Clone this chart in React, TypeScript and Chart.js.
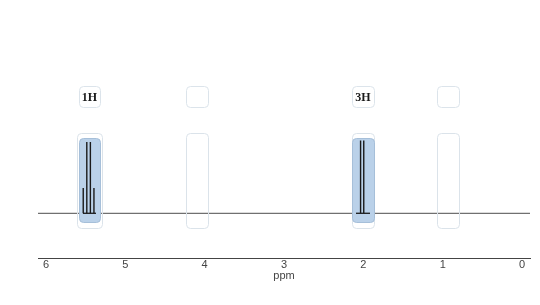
import { useEffect, useRef } from "react";
import { Chart, registerables } from "chart.js";

Chart.register(...registerables);

// ---- data ----
const peakPpm = [5.53, 5.485, 5.44, 5.395, 2.035, 1.995];
const peakHeight = [0.35, 0.99, 0.99, 0.35, 1.01, 1.01];
const regionStart = [5.58, 4.23, 2.14, 1.07];
const regionEnd = [5.32, 3.96, 1.87, 0.8];
const regionLabels = ["1H", "", "3H", ""];
const axisTicks = [0, 1, 2, 3, 4, 5, 6];
const ppmMin = -0.1;
const ppmMax = 6.1;

function rrect(ctx: CanvasRenderingContext2D, x: number, y: number, w: number, h: number, r: number) {
  ctx.beginPath();
  if ((ctx as any).roundRect) {
    (ctx as any).roundRect(x, y, w, h, r);
  } else {
    ctx.rect(x, y, w, h);
  }
}

const regionPlugin = {
  id: "regions",
  afterDatasetDraw(chart: any, args: any) {
    if (args.index !== 1) return;
    const { ctx, scales } = chart;
    const x = scales.x;
    const y = scales.y;
    const outerTop = y.getPixelForValue(1.11);
    const outerBottom = y.getPixelForValue(-0.21);
    const blueTop = y.getPixelForValue(1.04);
    const blueBottom = y.getPixelForValue(-0.125);
    const labTop = y.getPixelForValue(1.76);
    const labBottom = y.getPixelForValue(1.465);
    const base = y.getPixelForValue(0);
    ctx.save();
    for (let i = 0; i < regionStart.length; i++) {
      const l = Math.round(x.getPixelForValue(regionStart[i]));
      const r = Math.round(x.getPixelForValue(regionEnd[i]));
      const hasLabel = regionLabels[i] !== "";
      // outer faint box
      const pad = hasLabel && i === 0 ? 2 : 0;
      ctx.lineWidth = 1;
      ctx.strokeStyle = "#dbe3ea";
      rrect(ctx, l - pad + 0.5, Math.round(outerTop) + 0.5, r - l + 2 * pad, Math.round(outerBottom - outerTop), 4);
      ctx.stroke();
      // label box
      ctx.fillStyle = "#ffffff";
      ctx.strokeStyle = "#dce4eb";
      rrect(ctx, l + 0.5, Math.round(labTop) + 0.5, r - l, Math.round(labBottom - labTop), 4);
      ctx.fill();
      ctx.stroke();
      if (hasLabel) {
        ctx.fillStyle = "#1a1a1a";
        ctx.font = "bold 12px 'Liberation Serif', serif";
        ctx.textAlign = "center";
        ctx.textBaseline = "middle";
        ctx.fillText(regionLabels[i], (l + r) / 2, (labTop + labBottom) / 2 + 0.5);
        // blue integration box
        ctx.fillStyle = "#bad1e9";
        ctx.strokeStyle = "#a6bfd9";
        rrect(ctx, l + 0.5, Math.round(blueTop) + 0.5, r - l, Math.round(blueBottom - blueTop), 4);
        ctx.fill();
        ctx.stroke();
        ctx.strokeStyle = "#1a1a1a";
        ctx.lineWidth = 1.3;
        ctx.beginPath();
        ctx.moveTo(l + 4, base);
        ctx.lineTo(r - 4, base);
        ctx.stroke();
      }
    }
    ctx.restore();
  },
};

export default function App() {
  const ref = useRef<HTMLCanvasElement | null>(null);
  useEffect(() => {
    if (!ref.current) return;
    const peakData: any[] = [];
    peakPpm.forEach((p, i) => {
      peakData.push({ x: p, y: 0 });
      peakData.push({ x: p, y: peakHeight[i] });
      peakData.push({ x: p, y: null });
    });
    const chart = new Chart(ref.current, {
      type: "line",
      data: {
        datasets: [
          {
            data: peakData,
            borderColor: "#1a1a1a",
            borderWidth: 1.4,
            pointRadius: 0,
            spanGaps: false,
            order: 0,
          },
          {
            data: [
              { x: ppmMax, y: 0 },
              { x: ppmMin, y: 0 },
            ],
            borderColor: "#707070",
            borderWidth: 1.2,
            pointRadius: 0,
            order: 1,
          },
        ],
      },
      options: {
        responsive: false,
        animation: false,
        events: [],
        layout: { padding: { left: 38, right: 10, top: 20, bottom: 24 } },
        plugins: { legend: { display: false }, tooltip: { enabled: false } },
        scales: {
          x: {
            type: "linear",
            reverse: true,
            min: ppmMin,
            max: ppmMax,
            afterBuildTicks: (scale: any) => {
              scale.ticks = axisTicks.map((v) => ({ value: v }));
            },
            grid: { display: false, drawTicks: false },
            border: { display: true, color: "#444444", width: 1 },
            ticks: {
              padding: 1,
              maxRotation: 0,
              autoSkip: false,
              color: "#444444",
              font: { family: "'Liberation Sans', Arial, sans-serif", size: 11, lineHeight: 1 },
              callback: (v: any) => String(v),
            },
            title: {
              display: true,
              text: "ppm",
              color: "#444444",
              padding: { top: -1, bottom: 0 },
              font: { family: "'Liberation Sans', Arial, sans-serif", size: 11, lineHeight: 1 },
            },
          },
          y: {
            type: "linear",
            display: false,
            min: -0.62,
            max: 2.68,
          },
        },
      },
      plugins: [regionPlugin],
    });
    return () => chart.destroy();
  }, []);
  return (
    <div style={{ position: "fixed", left: 0, top: 0, width: 540, height: 305, background: "#fff" }}>
      <canvas ref={ref} width={540} height={305} style={{ display: "block" }} />
    </div>
  );
}
